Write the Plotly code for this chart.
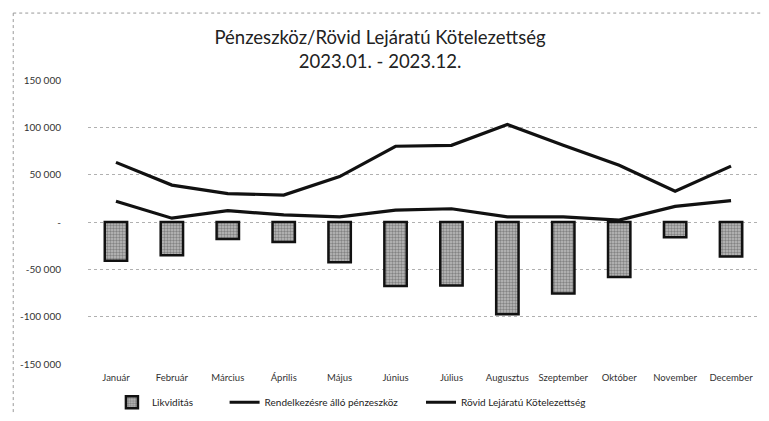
import plotly.graph_objects as go

months = ["Január", "Február", "Március", "Április", "Május", "Június",
          "Július", "Augusztus", "Szeptember", "Október", "November", "December"]
penzeszkoz = [22000, 4000, 12000, 7500, 5500, 12500, 14000, 5500, 5500, 2000, 16500, 22500]
kotelezettseg = [63000, 39000, 30000, 28500, 48000, 80000, 81000, 103000, 81000, 60000, 32500, 59000]
likviditas = [-41000, -35000, -18000, -21000, -42500, -67500, -67000, -97500, -75500, -58000, -16000, -36500]

y_tickvals = [150000, 100000, 50000, 0, -50000, -100000, -150000]
y_ticktext = ["150 000", "100 000", "50 000", "-", "-50 000", "-100 000", "-150 000"]

FONT = "Lato, 'Open Sans', sans-serif"

W, H = 769, 421
ml, mr, mt, mb = 78, 18, 72, 52
pw, ph = W - ml - mr, H - mt - mb


def px(x):
    return (x - ml) / pw


def py(y):
    return (H - mb - y) / ph


fig = go.Figure()
fig.add_trace(go.Bar(
    x=months, y=likviditas, name="Likviditás", legend="legend",
    marker=dict(color="#8c8c8c", line=dict(color="#111111", width=2.5),
                pattern=dict(shape=".", fgcolor="#4a4a4a", bgcolor="#bdbdbd", size=3, solidity=0.5)),
))
fig.add_trace(go.Scatter(
    x=months, y=penzeszkoz, name="Rendelkezésre álló pénzeszköz", legend="legend2",
    mode="lines", line=dict(color="#111111", width=3.2),
))
fig.add_trace(go.Scatter(
    x=months, y=kotelezettseg, name="Rövid Lejáratú Kötelezettség", legend="legend3",
    mode="lines", line=dict(color="#111111", width=3.2),
))

leg_common = dict(orientation="h", xanchor="left", y=py(409), yanchor="middle",
                  font=dict(family=FONT, size=10, color="#222222"),
                  bgcolor="rgba(0,0,0,0)", itemwidth=30)

fig.update_layout(
    width=W, height=H,
    margin=dict(l=ml, r=mr, t=mt, b=mb),
    paper_bgcolor="white", plot_bgcolor="white",
    font=dict(family=FONT, color="#333333", size=10),
    title=dict(text="Pénzeszköz/Rövid Lejáratú Kötelezettség<br>2023.01. - 2023.12.",
               x=372 / W, xref="container", xanchor="center", y=1 - 36 / H, yanchor="top",
               font=dict(family=FONT, size=18.5, color="#222222")),
    bargap=0.6,
    showlegend=True,
    legend=dict(x=px(102), **leg_common),
    legend2=dict(x=px(215), **leg_common),
    legend3=dict(x=px(412), **leg_common),
    xaxis=dict(showgrid=False, showline=False, ticks="", ticklabelstandoff=6,
               tickfont=dict(size=9.5, color="#333333")),
    yaxis=dict(range=[-150000, 150000], tickvals=y_tickvals, ticktext=y_ticktext,
               showgrid=True, gridcolor="#b0b0b0", griddash="dot", gridwidth=1,
               zeroline=False, showline=False, ticks="", ticklabelstandoff=26,
               tickfont=dict(size=10, color="#333333")),
    shapes=[
        dict(type="line", xref="paper", yref="paper", x0=px(3), x1=px(769), y0=py(2), y1=py(2),
             line=dict(color="#999999", width=1, dash="dot")),
        dict(type="line", xref="paper", yref="paper", x0=px(3), x1=px(3), y0=py(2), y1=py(421),
             line=dict(color="#999999", width=1, dash="dot")),
    ],
)

fig.write_html("out.html")
